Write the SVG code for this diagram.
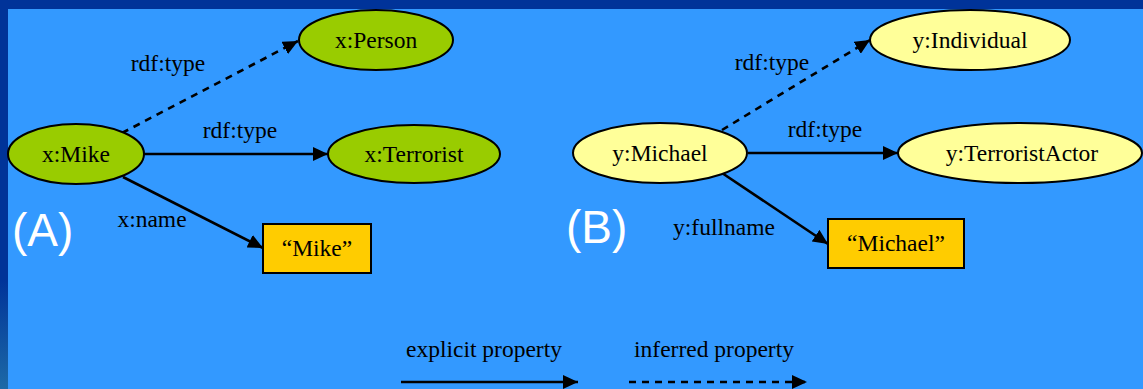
<svg xmlns="http://www.w3.org/2000/svg" width="1143" height="389" viewBox="0 0 1143 389">
  <defs>
    <linearGradient id="sideBar" x1="0" y1="0" x2="0" y2="1">
      <stop offset="0" stop-color="#003399"/>
      <stop offset="0.72" stop-color="#003399"/>
      <stop offset="1" stop-color="#1d6aa6"/>
    </linearGradient>
    <marker id="arrow" viewBox="0 0 15 14" refX="15" refY="7" markerWidth="15" markerHeight="14" markerUnits="userSpaceOnUse" orient="auto">
      <path d="M0,0 L15,7 L0,14 Z" fill="#000"/>
    </marker>
    <style>
      .lbl { font-size: 23.5px; fill: #000; }
      .tag { font-family: 'Liberation Sans', Arial, sans-serif; font-size: 46px; fill: #fff; }
      .node { stroke: #000; stroke-width: 2; }
      .classA { fill: #99cc00; }
      .classB { fill: #ffff99; }
      .literal { fill: #ffcc00; }
      .edge { stroke: #000; stroke-width: 2.6; fill: none; marker-end: url(#arrow); }
      .dashed { stroke-dasharray: 7 6; }
    </style>
  </defs>

  <!-- slide background with frame bars -->
  <rect x="0" y="0" width="1143" height="389" fill="#3399ff"/>
  <rect x="0" y="0" width="1143" height="9" fill="#003399"/>
  <rect x="0" y="0" width="8" height="389" fill="url(#sideBar)"/>

  <!-- connectors -->
  <g id="connectors">
    <line class="edge dashed" x1="122" y1="133" x2="298" y2="41"/>
    <line class="edge" x1="144" y1="154" x2="328" y2="154"/>
    <line class="edge" x1="123" y1="177" x2="263" y2="248"/>
    <line class="edge dashed" x1="722" y1="130" x2="870" y2="40"/>
    <line class="edge" x1="748" y1="153" x2="898" y2="153"/>
    <line class="edge" x1="722" y1="173" x2="828" y2="244"/>
    <!-- legend arrows -->
    <line class="edge" x1="401" y1="382" x2="578" y2="382"/>
    <line class="edge dashed" x1="629" y1="382" x2="807" y2="382"/>
  </g>

  <g font-family="Liberation Serif, DejaVu Serif, serif">
    <!-- connector labels -->
    <g id="edge-labels">
      <text class="lbl" x="168" y="71" text-anchor="middle">rdf:type</text>
      <text class="lbl" x="240" y="138" text-anchor="middle">rdf:type</text>
      <text class="lbl" x="152" y="227" text-anchor="middle">x:name</text>
      <text class="lbl" x="772" y="70" text-anchor="middle">rdf:type</text>
      <text class="lbl" x="825" y="137" text-anchor="middle">rdf:type</text>
      <text class="lbl" x="724" y="235" text-anchor="middle">y:fullname</text>
    </g>

    <!-- graph (A) -->
    <g id="x-mike">
      <ellipse class="node classA" cx="76" cy="154" rx="68" ry="30"/>
      <text class="lbl" x="76" y="162" text-anchor="middle">x:Mike</text>
    </g>
    <g id="x-person">
      <ellipse class="node classA" cx="376" cy="40" rx="77" ry="30"/>
      <text class="lbl" x="376" y="48" text-anchor="middle">x:Person</text>
    </g>
    <g id="x-terrorist">
      <ellipse class="node classA" cx="414" cy="154" rx="86" ry="29"/>
      <text class="lbl" x="414" y="162" text-anchor="middle">x:Terrorist</text>
    </g>
    <g id="lit-mike">
      <rect class="node literal" x="263" y="224" width="108" height="49"/>
      <text class="lbl" x="317" y="256" text-anchor="middle">“Mike”</text>
    </g>

    <!-- graph (B) -->
    <g id="y-michael">
      <ellipse class="node classB" cx="660" cy="153" rx="87" ry="30"/>
      <text class="lbl" x="660" y="161" text-anchor="middle">y:Michael</text>
    </g>
    <g id="y-individual">
      <ellipse class="node classB" cx="970" cy="40" rx="100" ry="30"/>
      <text class="lbl" x="970" y="48" text-anchor="middle">y:Individual</text>
    </g>
    <g id="y-terroristactor">
      <ellipse class="node classB" cx="1020" cy="153" rx="122" ry="30"/>
      <text class="lbl" x="1022" y="161" text-anchor="middle">y:TerroristActor</text>
    </g>
    <g id="lit-michael">
      <rect class="node literal" x="828" y="219" width="136" height="49"/>
      <text class="lbl" x="896" y="251" text-anchor="middle">“Michael”</text>
    </g>

    <!-- legend -->
    <g id="legend">
      <text class="lbl" x="484" y="357" text-anchor="middle">explicit property</text>
      <text class="lbl" x="714" y="357" text-anchor="middle">inferred property</text>
    </g>
  </g>

  <text class="tag" x="12" y="246">(A)</text>
  <text class="tag" x="566" y="243">(B)</text>
</svg>
